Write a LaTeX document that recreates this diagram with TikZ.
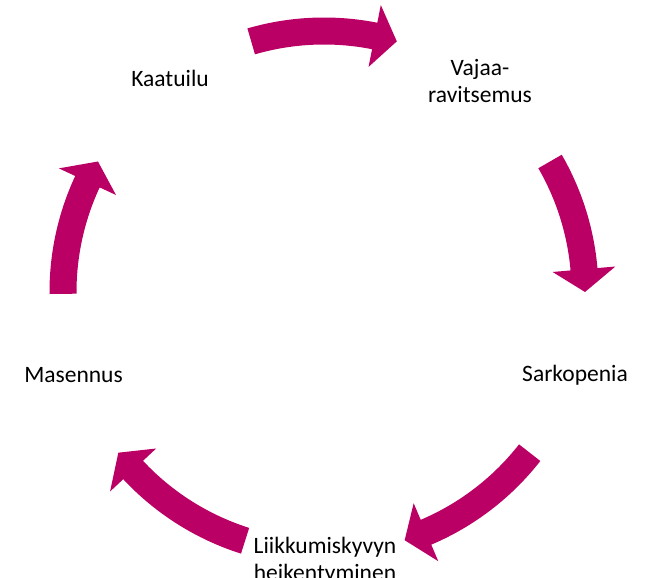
\documentclass[tikz,border=0pt]{standalone}
\usepackage{fontspec}
\setmainfont{Carlito}
\usetikzlibrary{calc}
\definecolor{cyclemagenta}{RGB}{187,0,101}
\tikzset{
    cyclelabel/.style={font=\fontsize{23.5}{27}\selectfont,align=center,inner sep=0pt},
    cyclearrow/.style={fill=cyclemagenta}
}
\newcommand{\blockarrow}[2]{%
    \fill[cyclearrow] ($(ctr)+(#1:247.5pt)$) arc[start angle=#1,end angle={#2+5},radius=247.5pt]
        -- ($(ctr)+({#2+5}:229.5pt)$) -- ($(ctr)+(#2:261pt)$) -- ($(ctr)+({#2+5}:292.5pt)$)
        -- ($(ctr)+({#2+5}:274.5pt)$) arc[start angle={#2+5},end angle=#1,radius=274.5pt] -- cycle;}

\begin{document}
\begin{tikzpicture}[x=1pt,y=1pt]
    \useasboundingbox (0,0) rectangle (646,578);
    \coordinate (ctr) at (324,286);
    \node[cyclelabel,anchor=base] (kaatuilu) at (170,491) {Kaatuilu};
    \node[cyclelabel] (vajaa) at (480,497) {Vajaa-\\ravitsemus};
    \node[cyclelabel,anchor=base] (sarkopenia) at (575,196) {Sarkopenia};
    \node[cyclelabel] (liikkumis) at (325,17) {Liikkumiskyvyn\\heikentyminen};
    \node[cyclelabel,anchor=base] (masennus) at (73.5,195) {Masennus};
    \blockarrow{106.2}{73.8}
    \blockarrow{30}{0}
    \blockarrow{322}{288}
    \blockarrow{252.4}{218}
    \blockarrow{180.4}{150}
\end{tikzpicture}
\end{document}
